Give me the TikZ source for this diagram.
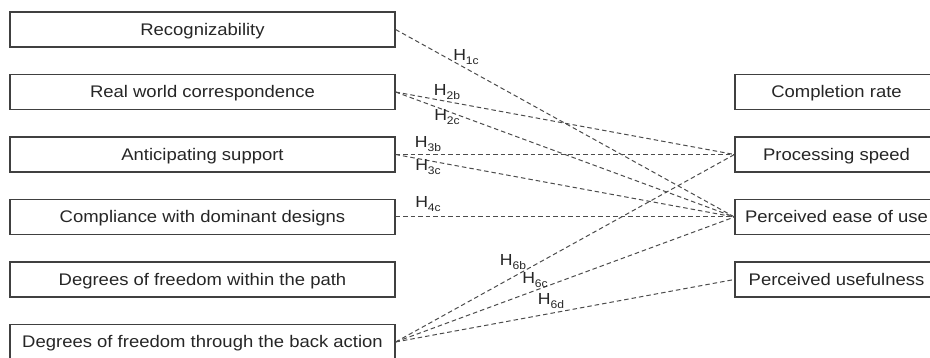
\documentclass[tikz,border=0pt]{standalone}
\usepackage{fontspec}
\setmainfont{Liberation Sans}[FakeStretch=1.1]
\begin{document}
\begin{tikzpicture}[x=1pt,y=-1pt,
  box/.style={draw=black!75,line width=1.1pt,minimum height=35pt,inner sep=0pt,
    text height=12pt,text depth=0pt,font=\fontsize{16.8}{18}\selectfont,text=black!85},
  lbox/.style={box,minimum width=385pt},
  rbox/.style={box,minimum width=203pt},
  hyp/.style={draw=black!70,line width=1pt,dash pattern=on 4.5pt off 3pt},
  hl/.style={inner sep=0pt,font=\fontsize{16}{16}\selectfont,text=black!85}]
\useasboundingbox (0,0) rectangle (930,358);
\newcommand{\hlab}[1]{H\raisebox{-3.5pt}{\fontsize{11}{11}\selectfont #1}}
% left column
\node[lbox] (rec) at (202.5,29.5) {Recognizability};
\node[lbox] (rwc) at (202.5,92) {Real world correspondence};
\node[lbox] (ant) at (202.5,154.5) {Anticipating support};
\node[lbox] (com) at (202.5,217) {Compliance with dominant designs};
\node[lbox] (dfp) at (202.5,279.5) {Degrees of freedom within the path};
\node[lbox] (dfb) at (202.5,342) {Degrees of freedom through the back action};
% right column
\node[rbox] (cr) at (836.5,92) {Completion rate};
\node[rbox] (ps) at (836.5,154.5) {Processing speed};
\node[rbox] (peou) at (836.5,217) {Perceived ease of use};
\node[rbox] (pu) at (836.5,279.5) {Perceived usefulness};
% connectors
\draw[hyp] (rec.east) -- (peou.west);
\draw[hyp] (rwc.east) -- (ps.west);
\draw[hyp] (rwc.east) -- (peou.west);
\draw[hyp] (ant.east) -- (ps.west);
\draw[hyp] (ant.east) -- (peou.west);
\draw[hyp] (com.east) -- (peou.west);
\draw[hyp] (dfb.east) -- (ps.west);
\draw[hyp] (dfb.east) -- (peou.west);
\draw[hyp] (dfb.east) -- (pu.west);
% labels
\node[hl] (h1c) at (466,57) {\hlab{1c}};
\node[hl] (h2b) at (447,92) {\hlab{2b}};
\node[hl] (h2c) at (447,117) {\hlab{2c}};
\node[hl] (h3b) at (428,144) {\hlab{3b}};
\node[hl] (h3c) at (428,167) {\hlab{3c}};
\node[hl] (h4c) at (428,204) {\hlab{4c}};
\node[hl] (h6b) at (513,262) {\hlab{6b}};
\node[hl] (h6c) at (535,280) {\hlab{6c}};
\node[hl] (h6d) at (551,301) {\hlab{6d}};
\end{tikzpicture}
\end{document}
